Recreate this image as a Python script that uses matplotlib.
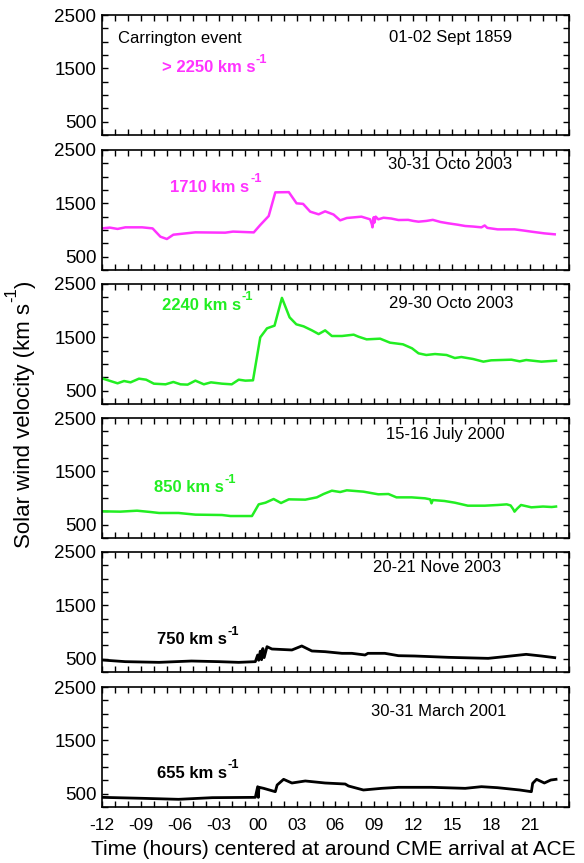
import numpy as np
import matplotlib
matplotlib.use("Agg")
import matplotlib.pyplot as plt
from matplotlib.ticker import MultipleLocator, FixedLocator, NullFormatter

plt.rcParams['font.family'] = ['Liberation Sans', 'DejaVu Sans']

MAGENTA = '#ff33ff'
GREEN = '#22ee22'

# 30-31 Oct 2003
t_oct30 = [-12.0, -11.4, -10.8, -10.2, -8.9, -8.1, -7.5, -7.0, -6.5, -4.8, -2.5, -1.9, -0.3,
           0.2, 0.85, 1.36, 2.4, 3.0, 3.5, 4.05, 4.7, 5.2, 5.85, 6.36, 6.87, 8.0, 8.67, 8.8,
           8.85, 8.95, 9.0, 9.1, 9.3, 9.7, 10.3, 10.85, 11.6, 12.0, 12.4, 13.0, 13.5, 14.1,
           14.7, 15.4, 16.0, 16.6, 17.25, 17.5, 17.7, 18.5, 19.8, 20.5, 21.1, 22.1, 22.9]
v_oct30 = [1030, 1045, 1020, 1050, 1050, 1030, 875, 831, 912, 956, 950, 970, 955,
           1094, 1262, 1706, 1710, 1500, 1490, 1344, 1294, 1350, 1290, 1181, 1225, 1250, 1200, 1110,
           1050, 1240, 1140, 1250, 1200, 1230, 1215, 1187, 1190, 1170, 1156, 1170, 1190, 1150,
           1125, 1100, 1075, 1065, 1050, 1085, 1040, 1012, 1012, 990, 969, 937, 919]

# 29-30 Oct 2003
t_oct29 = [-12.0, -10.8, -10.3, -9.8, -9.15, -8.6, -8.0, -7.1, -6.5, -5.95, -5.4, -4.8, -4.15,
           -3.6, -2.75, -2.0, -1.46, -0.95, -0.36, 0.2, 0.72, 1.3, 1.87, 2.46, 2.98, 3.54, 4.18,
           4.7, 5.2, 5.72, 6.5, 7.4, 7.77, 8.4, 9.44, 10.2, 11.2, 11.9, 12.4, 13.0, 13.67, 14.56,
           15.2, 15.7, 16.6, 17.4, 18.0, 19.56, 20.2, 20.7, 21.87, 23.0]
v_oct29 = [731, 638, 681, 656, 725, 706, 631, 619, 663, 619, 613, 688, 619,
           656, 631, 619, 706, 688, 694, 1500, 1669, 1719, 2240, 1875, 1744, 1706, 1631,
           1562, 1631, 1525, 1525, 1550, 1512, 1462, 1475, 1400, 1369, 1294, 1200, 1169, 1187, 1169,
           1112, 1131, 1094, 1044, 1069, 1081, 1050, 1075, 1044, 1062]

# 15-16 July 2000
t_jul = [-12.0, -10.6, -9.3, -8.25, -7.6, -6.1, -4.8, -2.75, -2.1, -0.44, 0.08, 0.6, 1.23,
         1.8, 2.4, 3.67, 4.56, 5.08, 5.72, 6.36, 6.87, 8.15, 9.3, 10.08, 10.7, 11.87, 12.9,
         13.3, 13.4, 13.5, 14.4, 15.2, 16.2, 17.5, 18.5, 19.2, 19.5, 19.7, 19.8, 20.0, 20.3,
         21.1, 22.0, 22.67, 23.0]
v_jul = [750, 744, 762, 737, 719, 719, 688, 681, 662, 662, 881, 912, 981,
         906, 975, 969, 1012, 1075, 1137, 1112, 1144, 1119, 1069, 1075, 1012, 1012, 994,
         975, 900, 962, 944, 912, 856, 856, 869, 881, 860, 790, 744, 800, 869,
         825, 840, 831, 840]

# 20-21 Nov 2003
t_nov = [-12.0, -10.2, -7.6, -5.1, -3.0, -1.46, -0.18, 0.0, 0.08, 0.2, 0.3, 0.4, 0.5, 0.72,
         1.1, 2.64, 3.4, 4.18, 5.2, 6.5, 7.26, 8.28, 8.5, 9.8, 10.85, 12.1, 14.7, 17.77,
         19.05, 20.7, 21.87, 22.9]
v_nov = [475, 444, 431, 456, 444, 431, 444, 569, 470, 640, 480, 690, 520, 725,
         681, 663, 738, 644, 631, 600, 600, 569, 600, 600, 556, 550, 525, 506,
         538, 581, 550, 519]

# 30-31 March 2001
t_mar = [-12.0, -8.9, -6.1, -3.5, -0.18, 0.0, 0.05, 0.1, 0.46, 1.36, 1.5, 2.0, 2.64, 3.67,
         5.2, 6.75, 7.0, 8.15, 9.56, 10.85, 13.4, 16.0, 17.25, 18.5, 20.2, 21.1, 21.2, 21.5,
         22.1, 22.6, 23.0]
v_mar = [431, 413, 394, 425, 431, 631, 430, 620, 600, 537, 662, 769, 700, 738,
         700, 681, 644, 569, 600, 619, 619, 600, 631, 612, 569, 537, 694, 769,
         700, 756, 769]

panels = [
    dict(t=None, v=None, color=MAGENTA, date='01-02 Sept 1859', date_xy=(0.615, 0.81),
         speed='> 2250', label_xy=(0.128, 0.56)),
    dict(t=t_oct30, v=v_oct30, color=MAGENTA, date='30-31 Octo 2003', date_xy=(0.612, 0.875),
         speed='1710', label_xy=(0.146, 0.69)),
    dict(t=t_oct29, v=v_oct29, color=GREEN, date='29-30 Octo 2003', date_xy=(0.615, 0.84),
         speed='2240', label_xy=(0.128, 0.825)),
    dict(t=t_jul, v=v_jul, color=GREEN, date='15-16 July 2000', date_xy=(0.608, 0.86),
         speed='850', label_xy=(0.111, 0.417)),
    dict(t=t_nov, v=v_nov, color='black', date='20-21 Nove 2003', date_xy=(0.58, 0.875),
         speed='750', label_xy=(0.118, 0.267)),
    dict(t=t_mar, v=v_mar, color='black', date='30-31 March 2001', date_xy=(0.576, 0.80),
         speed='655', label_xy=(0.118, 0.283)),
]


def speed_label(ax, x, y, speed, color, size=12):
    # "NNN km s" followed by a raised "-1"
    base = ax.text(x, y, speed + ' km s', transform=ax.transAxes, ha='left', va='center',
                   fontsize=size, fontweight='bold', color=color)
    ax.annotate('-1', xy=(1, 0.62), xycoords=base, xytext=(0.5, 0), textcoords='offset points',
                ha='left', va='bottom', fontsize=size * 0.78, fontweight='bold', color=color)


W, H = 584, 863
fig = plt.figure(figsize=(W / 100, H / 100), dpi=100)

left, width, height = 102, 467, 120
tops = [15, 150, 284, 418, 552, 687]
xticks = [-12, -9, -6, -3, 0, 3, 6, 9, 12, 15, 18, 21]

for i, (p, top) in enumerate(zip(panels, tops)):
    ax = fig.add_axes([left / W, 1 - (top + height) / H, width / W, height / H])
    if p['t'] is not None:
        ax.plot(p['t'], p['v'], color=p['color'], lw=1.8 if p['color'] != 'black' else 2.0)
    ax.set_xlim(-12, 24)
    ax.set_ylim(250, 2500)
    ax.yaxis.set_major_locator(FixedLocator([500, 1500, 2500]))
    ax.yaxis.set_minor_locator(MultipleLocator(250))
    ax.xaxis.set_major_locator(FixedLocator(xticks))
    ax.xaxis.set_minor_locator(MultipleLocator(1))
    ax.tick_params(which='both', direction='in', top=True, right=True, length=4, width=1.0)
    ax.tick_params(axis='y', labelsize=13.5, pad=4)
    ax.tick_params(axis='x', labelsize=12.5, pad=8)
    for s in ax.spines.values():
        s.set_linewidth(1.2)
    if i == len(panels) - 1:
        ax.set_xticklabels(['%02d' % x if x >= 0 else '-%02d' % -x for x in xticks])
    else:
        ax.xaxis.set_major_formatter(NullFormatter())

    if i == 0:
        ax.text(0.034, 0.80, 'Carrington event', transform=ax.transAxes,
                ha='left', va='center', fontsize=12)
    ax.text(p['date_xy'][0], p['date_xy'][1], p['date'], transform=ax.transAxes,
            ha='left', va='center', fontsize=12)
    speed_label(ax, p['label_xy'][0], p['label_xy'][1], p['speed'], p['color'])

fig.text(333 / W, 1 - 849 / H, 'Time (hours) centered at around CME arrival at ACE',
         ha='center', va='center', fontsize=15)

# rotated axis title: "Solar wind velocity (km s" + raised "-1" + ")"
ylab = fig.text(25 / W, 1 - 548 / H, 'Solar wind velocity (km s', ha='center', va='bottom',
                rotation=90, fontsize=16)
sup = fig.add_artist(plt.Annotation('-1', xy=(0, 1), xycoords=ylab, xytext=(3.5, 0.5),
                                    textcoords='offset points', rotation=90,
                                    ha='right', va='bottom', fontsize=12))
fig.add_artist(plt.Annotation(')', xy=(0.5, 1), xycoords=(ylab, sup), rotation=90,
                              ha='center', va='bottom', fontsize=16))

fig.savefig('out.png', dpi=100)
